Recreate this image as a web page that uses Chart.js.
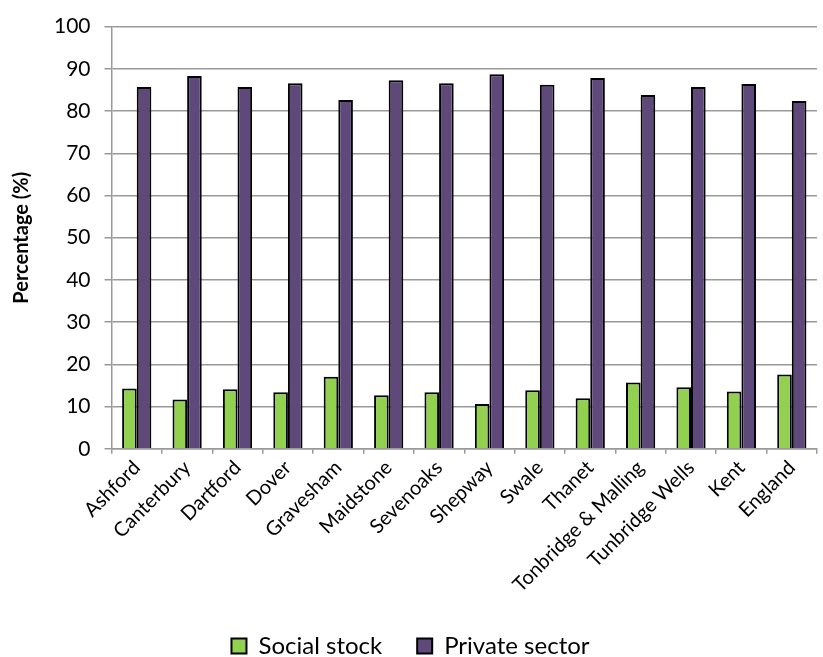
<!DOCTYPE html>
<html>
<head>
<meta charset="utf-8">
<script src="https://cdn.jsdelivr.net/npm/chart.js@4"></script>
<style>
  body { margin: 0; background: #fff; }
  #wrap { width: 823px; height: 657px; }
</style>
</head>
<body>
<div id="wrap"><canvas id="chart"></canvas></div>
<script>
const areas = ['Ashford', 'Canterbury', 'Dartford', 'Dover', 'Gravesham', 'Maidstone', 'Sevenoaks',
  'Shepway', 'Swale', 'Thanet', 'Tonbridge & Malling', 'Tunbridge Wells', 'Kent', 'England'];
const socialStock = [14.3, 11.7, 14.1, 13.4, 17.1, 12.7, 13.4, 10.6, 13.9, 12.0, 15.7, 14.6, 13.6, 17.6];
const privateSector = [85.7, 88.3, 85.7, 86.6, 82.6, 87.3, 86.6, 88.7, 86.2, 87.8, 83.8, 85.7, 86.4, 82.4];
const yTicks = [0, 10, 20, 30, 40, 50, 60, 70, 80, 90, 100];

const font = 'Lato, "Open Sans", sans-serif';

new Chart(document.getElementById('chart').getContext('2d'), {
  type: 'bar',
  data: {
    labels: areas,
    datasets: [
      { label: 'Social stock', data: socialStock, backgroundColor: '#92D050', borderColor: '#000', borderWidth: 2 },
      { label: 'Private sector', data: privateSector, backgroundColor: '#5F497A', borderColor: '#000', borderWidth: 2 }
    ]
  },
  options: {
    responsive: true,
    maintainAspectRatio: false,
    animation: false,
    layout: { padding: { left: 4, right: 6, top: 11, bottom: -11 } },
    datasets: { bar: { categoryPercentage: 0.58, barPercentage: 1 } },
    plugins: {
      tooltip: { enabled: false },
      legend: {
        position: 'bottom',
        labels: {
          color: '#000',
          font: { family: font, size: 24 },
          boxWidth: 15, boxHeight: 15, padding: 35
        }
      }
    },
    scales: {
      x: {
        grid: { offset: true, drawOnChartArea: false, color: '#999', tickLength: 5, lineWidth: 1.5 },
        border: { color: '#999', width: 1.5 },
        ticks: { color: '#000', font: { family: font, size: 20 }, maxRotation: 45, minRotation: 45, padding: 2 }
      },
      y: {
        min: 0, max: 100,
        afterBuildTicks: axis => { axis.ticks = yTicks.map(v => ({ value: v })); },
        grid: { color: '#999', lineWidth: 1.5, tickLength: 7 },
        border: { color: '#999', width: 1.5 },
        ticks: { color: '#000', font: { family: font, size: 21 }, padding: 14 },
        title: { display: true, text: 'Percentage (%)', color: '#000', font: { family: font, size: 20, weight: 'bold' }, padding: 6 }
      }
    }
  }
});
</script>
</body>
</html>
